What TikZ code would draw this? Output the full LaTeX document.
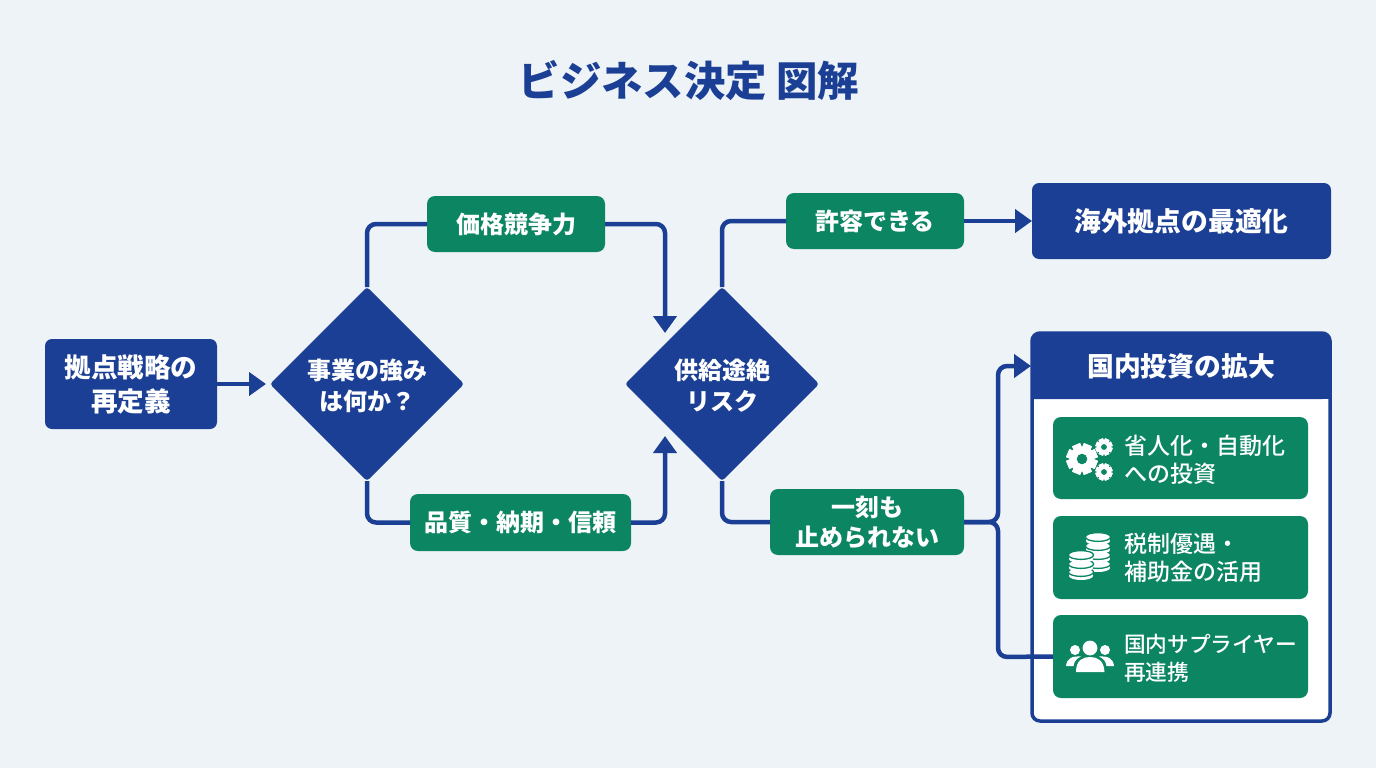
\documentclass[tikz,border=0pt]{standalone}
\usepackage{fontspec}
\usetikzlibrary{shapes.geometric,arrows.meta,calc}
\newfontfamily\jp{Noto Sans CJK JP}
\newfontfamily\jpm{Noto Sans CJK JP Medium}
\definecolor{navy}{HTML}{1B3F94}
\definecolor{leaf}{HTML}{0B8562}
\definecolor{bgc}{HTML}{EEF3F8}
\newcommand{\fs}[2]{\fontsize{#1}{#2}\selectfont}
\newcommand{\gearicon}[3]{%
  \foreach \a in {0,45,...,315}{%
    \fill[white,rotate around={\a+22.5:(#1,#2)}] ($(#1,#2)+(-0.28*#3,-1.0*#3)$) rectangle ($(#1,#2)+(0.28*#3,1.0*#3)$);}
  \fill[white] (#1,#2) circle[radius=0.8*#3];
  \fill[leaf] (#1,#2) circle[radius=0.34*#3];}
\newcommand{\coin}[2]{%
  \fill[white] (#1,#2+4) ellipse[x radius=12,y radius=4];
  \fill[white] (#1-12,#2) rectangle (#1+12,#2+4);
  \draw[leaf,fill=white,line width=1.3pt] (#1,#2) ellipse[x radius=12.6,y radius=4.4];}
\tikzset{
  x=1pt,y=-1pt,
  every node/.style={font=\jp\bfseries,text=white,inner sep=0pt,outer sep=0pt},
  navybox/.style={fill=navy,rounded corners=7pt,minimum width=#1},
  greenbox/.style={fill=leaf,rounded corners=8pt,minimum width=#1},
  decision/.style={diamond,aspect=1,fill=navy,minimum width=194pt,minimum height=194pt,rounded corners=3pt},
  decisiontext/.style={align=center,font=\jp\bfseries\fs{24}{31}},
  link/.style={draw=navy,line width=4.5pt,rounded corners=9pt},
  arrowlink/.style={link,-{Triangle[length=17pt,width=23pt]}},
  itemtext/.style={anchor=west,align=left,font=\jpm\fs{23}{28}},
}
\begin{document}
\begin{tikzpicture}
\useasboundingbox (0,0) rectangle (1376,768);
\fill[bgc] (0,0) rectangle (1376,768);

\node[font=\jp\bfseries\fs{41.4}{48},text=navy] (title) at (689,81) {ビジネス決定 図解};

\node[navybox=172pt,minimum height=90pt,align=center,font=\jp\bfseries\fs{26.6}{34}] (start) at (131,384) {拠点戦略の\\再定義};
\node[decision] (d1) at (367,384) {};
\node[decision] (d2) at (722,384) {};
\node[decisiontext] (d1t) at (367,386) {事業の強み\\は何か？};
\node[decisiontext] (d2t) at (722,386) {供給途絶\\リスク};
\node[greenbox=178pt,minimum height=56pt,font=\jp\bfseries\fs{24}{30}] (price) at (516,224) {価格競争力};
\node[greenbox=221pt,minimum height=57pt,font=\jp\bfseries\fs{24}{30}] (qual) at (520.5,522.5) {品質・納期・信頼};
\node[greenbox=178pt,minimum height=56pt,font=\jp\bfseries\fs{24}{30}] (ok) at (875,221) {許容できる};
\node[greenbox=194pt,minimum height=66pt,align=center,font=\jp\bfseries\fs{24}{30}] (stop) at (867,522) {一刻も\\止められない};
\node[navybox=299pt,minimum height=76pt,font=\jp\bfseries\fs{26.8}{32}] (abroad) at (1181.5,221) {海外拠点の最適化};

% panel
\node[draw=navy,line width=3.5pt,fill=white,rounded corners=8pt,minimum width=298pt,minimum height=388pt] (panel) at (1181,527) {};
\fill[navy,rounded corners=8pt] (panel.north west) -- (panel.north east) -- ([yshift=-66pt]panel.north east) [sharp corners] -- ([yshift=-66pt]panel.north west) [rounded corners=8pt] -- cycle;
\fill[navy] ([yshift=-30pt]panel.north west) rectangle ([yshift=-66pt]panel.north east);
\node[minimum width=300pt,minimum height=67pt,font=\jp\bfseries\fs{26.8}{32}] (head) at (1181,366) {国内投資の拡大};

% connectors
\coordinate (busU) at (998,366);
\coordinate (busD) at (998,657);
\coordinate (inTop) at (665,333);
\coordinate (inBot) at (665,436);
\draw[arrowlink,shorten >=4pt] (start.east) -- (d1.west);
\draw[link] (d1.north) |- (price.west);
\draw[arrowlink] (price.east) -| (inTop);
\draw[link] (d1.south) |- (qual.west);
\draw[arrowlink] (qual.east) -| (inBot);
\draw[link] (d2.north) |- (ok.west);
\draw[arrowlink] (ok.east) -- (abroad.west);
\draw[link] (d2.south) |- (stop.west);
\draw[arrowlink] (stop.east) -| (busU) -- (head.west);

% items
\node[greenbox=255pt,minimum height=82pt] (it1) at (1180.5,458) {};
\node[greenbox=255pt,minimum height=83pt] (it2) at (1180.5,557.5) {};
\node[greenbox=255pt,minimum height=83pt] (it3) at (1180.5,656.5) {};
\draw[link] (stop.east) -| (busD) -- (it3.west);
\node[itemtext] (t1) at (1124,459.5) {省人化・自動化\\への投資};
\node[itemtext] (t2) at (1124,557.5) {税制優遇・\\補助金の活用};
\node[itemtext,font=\jpm\fs{21.7}{28}] (t3) at (1124,658) {国内サプライヤー\\再連携};

% gears
\gearicon{1082}{459}{15.5}
\gearicon{1104}{447}{8.5}
\gearicon{1104}{472}{8.5}

% coins
\foreach \y in {564,555,546,537}{\coin{1098}{\y}}
\foreach \y in {572,564,555}{\coin{1081}{\y}}

% people
\fill[white] (1090,648) circle[radius=7.4];
\fill[white] (1075,650) circle[radius=5];
\fill[white] (1105,650) circle[radius=5];
\fill[white] (1076,672) .. controls (1076,660) and (1083,657) .. (1090,657) .. controls (1097,657) and (1104,660) .. (1104.5,672) -- cycle;
\fill[white] (1066,666) .. controls (1067,658) and (1072,656) .. (1081,656.5) .. controls (1076,659) and (1074.5,661) .. (1073.5,666) -- cycle;
\fill[white] (1114,666) .. controls (1113,658) and (1108,656) .. (1099,656.5) .. controls (1104,659) and (1105.5,661) .. (1106.5,666) -- cycle;
\end{tikzpicture}
\end{document}
